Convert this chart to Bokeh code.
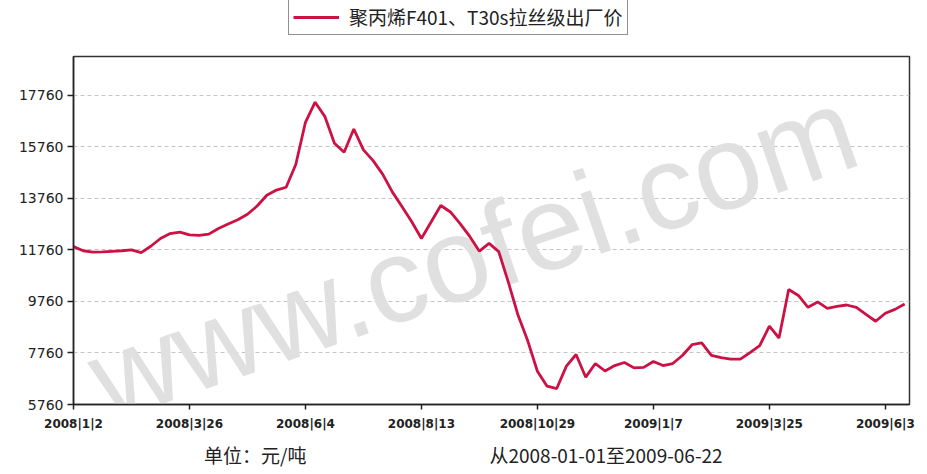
from bokeh.plotting import figure
from bokeh.layouts import column
from bokeh.models import FixedTicker, Legend, LegendItem, Range1d, LinearAxis
from bokeh.core.properties import value
from bokeh.embed import file_html
from bokeh.resources import INLINE

# ---- data ----
series_name = "聚丙烯F401、T30s拉丝级出厂价"
tick_labels = ["2008|1|2", "2008|3|26", "2008|6|4", "2008|8|13",
               "2008|10|29", "2009|1|7", "2009|3|25", "2009|6|3"]
points_per_tick = 12
prices = [
    11885, 11725, 11670, 11680, 11705, 11725, 11760, 11650, 11900, 12200,
    12390, 12450, 12340, 12320, 12370, 12590, 12760, 12930, 13140, 13460,
    13880, 14080, 14190, 15070, 16710, 17490, 16940, 15900, 15550, 16450,
    15640, 15220, 14690, 14000, 13430, 12850, 12200, 12840, 13480, 13230,
    12780, 12280, 11710, 12010, 11690, 10500, 9220, 8230, 7050, 6470,
    6380, 7250, 7700, 6820, 7350, 7060, 7270, 7390, 7180, 7200,
    7430, 7270, 7350, 7660, 8080, 8150, 7670, 7580, 7520, 7520,
    7770, 8040, 8800, 8340, 10220, 9990, 9530, 9740, 9490, 9570,
    9620, 9530, 9260, 8990, 9300, 9450, 9660,
]
y_ticks = [5760, 7760, 9760, 11760, 13760, 15760, 17760]
y_min, y_max = 5760, 19262
unit_text = "单位：元/吨"
period_text = "从2008-01-01至2009-06-22"
footer_pos = [18.8, 55.1]
watermark = "www.cofei.com"

LINE_COLOR = "#cc1144"
x = list(range(len(prices)))
tick_pos = [i * points_per_tick for i in range(len(tick_labels))]

# ---- main chart ----
p = figure(width=920, height=416, output_backend="svg", toolbar_location=None,
           x_range=Range1d(0, 86.5), y_range=Range1d(y_min, y_max),
           min_border_left=73, min_border_right=11, min_border_top=2,
           min_border_bottom=61)
p.background_fill_color = "white"
p.border_fill_color = "white"
p.outline_line_color = "#333333"
p.outline_line_width = 1.5

p.text(x=[41.3], y=[11630], text=[watermark], angle=0.33,
       text_font=value("Liberation Sans"), text_font_size=value("120px"),
       text_align="center", text_baseline="middle", text_color="#e0e0e0")

p.line(x, prices, line_color=LINE_COLOR, line_width=2.8)

p.xgrid.visible = False
p.ygrid.ticker = FixedTicker(ticks=y_ticks)
p.ygrid.grid_line_color = "#c4c4c4"
p.ygrid.grid_line_dash = "4 3"
p.ygrid.grid_line_width = 1

p.yaxis.ticker = FixedTicker(ticks=y_ticks)
p.xaxis.ticker = FixedTicker(ticks=tick_pos)
p.xaxis.major_label_overrides = {t: lab for t, lab in zip(tick_pos, tick_labels)}
for ax in (p.xaxis[0], p.yaxis[0]):
    ax.axis_line_color = "#222222"
    ax.axis_line_width = 1.5
    ax.major_tick_line_color = "#222222"
    ax.major_tick_line_width = 1.5
    ax.major_tick_in = 0
    ax.minor_tick_line_color = None
    ax.major_label_text_color = "#222222"
    ax.major_label_text_font = "DejaVu Sans"
p.yaxis.major_tick_out = 6
p.yaxis.major_label_text_font_size = "14px"
p.yaxis.major_label_standoff = 4
p.xaxis.major_tick_out = 5
p.xaxis.major_label_text_font_size = "12px"
p.xaxis.major_label_text_font_style = "bold"
p.xaxis.major_label_standoff = 7

footer = LinearAxis(ticker=FixedTicker(ticks=footer_pos),
                    major_label_overrides={footer_pos[0]: unit_text,
                                           footer_pos[1]: period_text})
footer.axis_line_color = None
footer.major_tick_line_color = None
footer.minor_tick_line_color = None
footer.major_tick_out = 0
footer.major_tick_in = 0
footer.major_label_standoff = 7
footer.major_label_text_font = "Noto Sans CJK SC"
footer.major_label_text_font_size = "19px"
footer.major_label_text_color = "#222222"
p.add_layout(footer, "below")

# ---- legend strip above the chart ----
top = figure(width=920, height=54, output_backend="svg", toolbar_location=None,
             x_axis_location=None, y_axis_location=None,
             x_range=Range1d(0, 1), y_range=Range1d(0, 1),
             min_border=0)
top.outline_line_color = None
top.grid.visible = False
top.border_fill_color = "white"
key = top.line(x, prices, line_color=LINE_COLOR, line_width=2.8, visible=False)
legend = Legend(items=[LegendItem(label=series_name, renderers=[key])],
                location=(215, 19), click_policy="none")
legend.border_line_color = "#222222"
legend.border_line_width = 1.5
legend.background_fill_color = "white"
legend.padding = 4
legend.margin = 0
legend.glyph_width = 46
legend.label_standoff = 10
legend.label_text_font = "Noto Sans CJK SC"
legend.label_text_font_size = "19px"
legend.label_text_color = "#222222"
top.add_layout(legend)

layout = column(top, p, spacing=0)
open("out.html", "w").write(file_html(layout, INLINE))
